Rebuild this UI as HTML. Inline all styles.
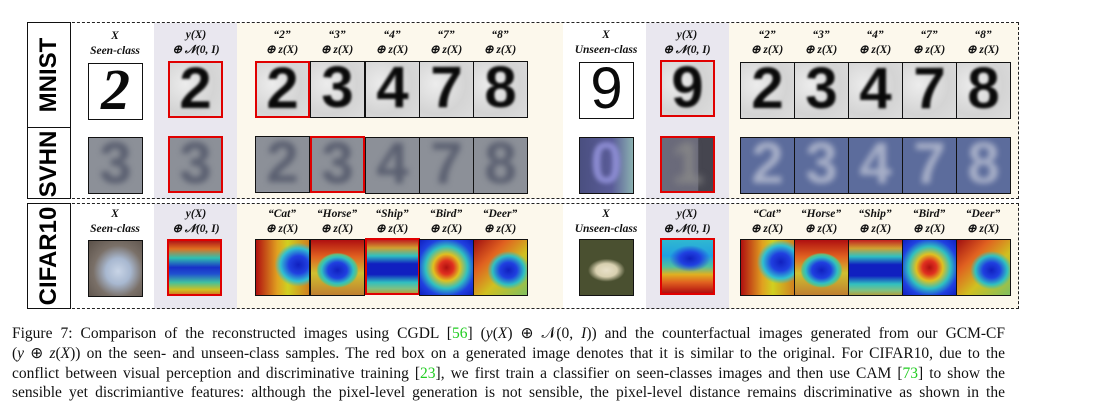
<!DOCTYPE html>
<html><head><meta charset="utf-8"><style>
body{margin:0;width:1093px;height:413px;background:#fff;position:relative;overflow:hidden;font-family:"Liberation Serif",serif}
.a{position:absolute}
.bg{position:absolute}
.im{position:absolute;box-sizing:border-box;border:1.5px solid #111;overflow:hidden;width:55px;height:57px}
.r{border:2.5px solid #e00000}
.mn{background:radial-gradient(circle at 30% 40%,#ececec,#d4d4d4 60%,#dcdcdc)}
.dg{position:absolute;left:0;right:0;top:-8px;text-align:center;font:bold 58px "Liberation Sans",sans-serif;color:#0a0a0a;filter:blur(1.4px)}
.sv{background:#8c9098}
.sv .dg{color:#5a5f70;filter:blur(3px)}
.sb{background:#5c6c9c}
.sb .dg{color:#a8b0c8;filter:blur(3px)}
.h{position:absolute;text-align:center;font:bold italic 11.5px "Liberation Serif",serif;color:#111;width:70px;line-height:15px}
.lab{position:absolute;font:bold 24px "Liberation Sans",sans-serif;transform:rotate(-90deg);transform-origin:center;white-space:nowrap;text-align:center}
.cap{position:absolute;left:12px;width:993px;font-size:15.5px;line-height:20px;text-align:justify;text-align-last:justify;white-space:nowrap;color:#111}
.g{color:#22cc22}
</style></head><body>
<div class="bg" style="left:154px;top:23px;width:83px;height:176px;background:#e9e7ef"></div>
<div class="bg" style="left:237px;top:23px;width:326px;height:176px;background:#fcf8ec"></div>
<div class="bg" style="left:646px;top:23px;width:83px;height:176px;background:#e9e7ef"></div>
<div class="bg" style="left:729px;top:23px;width:290px;height:176px;background:#fcf8ec"></div>
<div class="bg" style="left:154px;top:204px;width:83px;height:105px;background:#e9e7ef"></div>
<div class="bg" style="left:237px;top:204px;width:326px;height:105px;background:#fcf8ec"></div>
<div class="bg" style="left:646px;top:204px;width:83px;height:105px;background:#e9e7ef"></div>
<div class="bg" style="left:729px;top:204px;width:290px;height:105px;background:#fcf8ec"></div>
<div class="a" style="left:27px;top:22px;width:992px;height:177px;border:1.3px dashed #222;box-sizing:border-box"></div>
<div class="a" style="left:27px;top:203px;width:992px;height:106px;border:1.3px dashed #222;box-sizing:border-box"></div>
<div class="a" style="left:27px;top:22px;width:44px;height:106px;border:1.5px solid #111;box-sizing:border-box;background:#fff"></div>
<div class="a" style="left:27px;top:127px;width:44px;height:72px;border:1.5px solid #111;box-sizing:border-box;background:#fff"></div>
<div class="a" style="left:27px;top:203px;width:44px;height:106px;border:1.5px solid #111;box-sizing:border-box;background:#fff"></div>
<div class="lab" style="left:-1px;top:60px;width:100px;height:30px;line-height:30px">MNIST</div>
<div class="lab" style="left:-1px;top:149px;width:100px;height:30px;line-height:30px">SVHN</div>
<div class="lab" style="left:-1px;top:241px;width:100px;height:30px;line-height:30px">CIFAR10</div>

<div class="h" style="left:80px;top:29px">X<br>Seen-class</div>
<div class="h" style="left:161px;top:28px">y(X)<br>⊕ 𝒩(0, I)</div>
<div class="h" style="left:247px;top:28px">“2”<br>⊕ z(X)</div>
<div class="h" style="left:302px;top:28px">“3”<br>⊕ z(X)</div>
<div class="h" style="left:357px;top:28px">“4”<br>⊕ z(X)</div>
<div class="h" style="left:411px;top:28px">“7”<br>⊕ z(X)</div>
<div class="h" style="left:465px;top:28px">“8”<br>⊕ z(X)</div>
<div class="h" style="left:571px;top:28px">X<br>Unseen-class</div>
<div class="h" style="left:652px;top:28px">y(X)<br>⊕ 𝒩(0, I)</div>
<div class="h" style="left:732px;top:28px">“2”<br>⊕ z(X)</div>
<div class="h" style="left:786px;top:28px">“3”<br>⊕ z(X)</div>
<div class="h" style="left:840px;top:28px">“4”<br>⊕ z(X)</div>
<div class="h" style="left:894px;top:28px">“7”<br>⊕ z(X)</div>
<div class="h" style="left:948px;top:28px">“8”<br>⊕ z(X)</div>
<div class="h" style="left:80px;top:207px">X<br>Seen-class</div>
<div class="h" style="left:161px;top:207px">y(X)<br>⊕ 𝒩(0, I)</div>
<div class="h" style="left:247px;top:207px">“Cat”<br>⊕ z(X)</div>
<div class="h" style="left:302px;top:207px">“Horse”<br>⊕ z(X)</div>
<div class="h" style="left:357px;top:207px">“Ship”<br>⊕ z(X)</div>
<div class="h" style="left:411px;top:207px">“Bird”<br>⊕ z(X)</div>
<div class="h" style="left:465px;top:207px">“Deer”<br>⊕ z(X)</div>
<div class="h" style="left:571px;top:207px">X<br>Unseen-class</div>
<div class="h" style="left:652px;top:207px">y(X)<br>⊕ 𝒩(0, I)</div>
<div class="h" style="left:732px;top:207px">“Cat”<br>⊕ z(X)</div>
<div class="h" style="left:786px;top:207px">“Horse”<br>⊕ z(X)</div>
<div class="h" style="left:840px;top:207px">“Ship”<br>⊕ z(X)</div>
<div class="h" style="left:894px;top:207px">“Bird”<br>⊕ z(X)</div>
<div class="h" style="left:948px;top:207px">“Deer”<br>⊕ z(X)</div>

<div class="im" style="left:88px;top:63px;background:#fff"><div class="dg" style="filter:none;font-family:'Liberation Serif',serif;font-style:italic">2</div></div>
<div class="im r mn" style="left:168px;top:61px"><div class="dg">2</div></div>
<div class="im r mn" style="left:255px;top:61px"><div class="dg">2</div></div>
<div class="im mn" style="left:310px;top:61px"><div class="dg">3</div></div>
<div class="im mn" style="left:365px;top:61px"><div class="dg">4</div></div>
<div class="im mn" style="left:419px;top:61px"><div class="dg">7</div></div>
<div class="im mn" style="left:473px;top:61px"><div class="dg">8</div></div>
<div class="im" style="left:579px;top:62px;background:#fff"><div class="dg" style="filter:none;font-weight:normal">9</div></div>
<div class="im r mn" style="left:660px;top:60px"><div class="dg">9</div></div>
<div class="im mn" style="left:740px;top:62px"><div class="dg">2</div></div>
<div class="im mn" style="left:794px;top:62px"><div class="dg">3</div></div>
<div class="im mn" style="left:848px;top:62px"><div class="dg">4</div></div>
<div class="im mn" style="left:902px;top:62px"><div class="dg">7</div></div>
<div class="im mn" style="left:956px;top:62px"><div class="dg">8</div></div>

<div class="im sv" style="left:88px;top:137px"><div class="dg">3</div></div>
<div class="im r sv" style="left:168px;top:136px"><div class="dg">3</div></div>
<div class="im sv" style="left:255px;top:136px"><div class="dg">2</div></div>
<div class="im r sv" style="left:310px;top:136px"><div class="dg">3</div></div>
<div class="im sv" style="left:365px;top:137px"><div class="dg">4</div></div>
<div class="im sv" style="left:419px;top:137px"><div class="dg">7</div></div>
<div class="im sv" style="left:473px;top:137px"><div class="dg">8</div></div>
<div class="im" style="left:579px;top:137px;background:linear-gradient(90deg,#4a4f80,#5a5c98 60%,#8ab0b0)"><div class="dg" style="color:#8a8ad0;filter:blur(2px)">0</div></div>
<div class="im r" style="left:660px;top:136px;background:linear-gradient(90deg,#6a6a7a 70%,#45454f 72%)"><div class="dg" style="color:#888;filter:blur(4px)">1</div></div>
<div class="im sb" style="left:740px;top:137px"><div class="dg">2</div></div>
<div class="im sb" style="left:794px;top:137px"><div class="dg">3</div></div>
<div class="im sb" style="left:848px;top:137px"><div class="dg">4</div></div>
<div class="im sb" style="left:902px;top:137px"><div class="dg">7</div></div>
<div class="im sb" style="left:956px;top:137px"><div class="dg">8</div></div>

<div class="im" style="left:88px;top:240px;background:radial-gradient(ellipse at 55% 55%,#c8d4e6 0,#a8b8d0 30%,#7a7068 60%,#5a5048)"></div>
<div class="im r" style="left:167px;top:239px;background:linear-gradient(180deg,#b01818 0,#e07020 15%,#30c0b0 32%,#1830c8 50%,#2050d0 62%,#40c0a0 78%,#d0c020 92%,#d08020)"></div>
<div class="im" style="left:255px;top:239px;background:radial-gradient(ellipse 45% 40% at 80% 45%,#1020c0 0,#2040e0 40%,#30c0d0 75%,transparent 100%),linear-gradient(90deg,#b01010,#e0a020 40%,#d0d020 60%,#d08020)"></div>
<div class="im" style="left:310px;top:239px;background:radial-gradient(ellipse 40% 32% at 50% 55%,#1020c0 0,#2040e0 45%,#30c0c0 75%,#60c080 90%,transparent 100%),linear-gradient(180deg,#b01010,#e06020 30%,#d0c030 60%,#c08030)"></div>
<div class="im r" style="left:365px;top:238px;background:linear-gradient(180deg,#c02020 0,#d0a030 15%,#30c0c0 30%,#1020c0 45%,#1020c0 65%,#30c0c0 80%,#80c080 92%,#b0a040)"></div>
<div class="im" style="left:419px;top:239px;background:radial-gradient(circle at 50% 50%,#b01010 0,#e03020 18%,#e0c020 35%,#30c0c0 55%,#2040e0 75%,#1020c0)"></div>
<div class="im" style="left:473px;top:239px;background:radial-gradient(ellipse 40% 35% at 65% 55%,#1020c0 0,#2040e0 40%,#30c0c0 75%,transparent 100%),linear-gradient(135deg,#a01010,#e06020 30%,#d0c020 60%,#80c060)"></div>
<div class="im" style="left:579px;top:239px;background:radial-gradient(ellipse 50% 30% at 50% 55%,#e8e0c8 0,#d8d0b0 40%,#4a5030 70%),#3e4428"></div>
<div class="im r" style="left:660px;top:238px;background:radial-gradient(ellipse 40% 25% at 55% 35%,#1020c0 0,#2040e0 50%,transparent 100%),linear-gradient(180deg,#30b8d0 0,#20a0e0 30%,#50c0a0 50%,#e0b020 65%,#e06020 80%,#b01010)"></div>
<div class="im" style="left:740px;top:239px;background:radial-gradient(ellipse 45% 40% at 75% 40%,#1020c0 0,#2040e0 40%,#30c0d0 75%,transparent 100%),linear-gradient(90deg,#b01010,#e0a020 40%,#d0d020 60%,#d08020)"></div>
<div class="im" style="left:794px;top:239px;background:radial-gradient(ellipse 40% 32% at 50% 55%,#1020c0 0,#2040e0 45%,#30c0c0 75%,#60c080 90%,transparent 100%),linear-gradient(180deg,#b01010,#e06020 30%,#d0c030 60%,#c08030)"></div>
<div class="im" style="left:848px;top:239px;background:linear-gradient(180deg,#c02020 0,#d0a030 15%,#30c0c0 30%,#1020c0 45%,#1020c0 65%,#30c0c0 80%,#80c080 92%,#b0a040)"></div>
<div class="im" style="left:902px;top:239px;background:radial-gradient(circle at 50% 50%,#b01010 0,#e03020 18%,#e0c020 35%,#30c0c0 55%,#2040e0 75%,#1020c0)"></div>
<div class="im" style="left:956px;top:239px;background:radial-gradient(ellipse 40% 35% at 65% 55%,#1020c0 0,#2040e0 40%,#30c0c0 75%,transparent 100%),linear-gradient(135deg,#a01010,#e06020 30%,#d0c020 60%,#80c060)"></div>

<div class="cap" style="top:324px">Figure 7: Comparison of the reconstructed images using CGDL [<span class="g">56</span>] (<i>y</i>(<i>X</i>) ⊕ 𝒩(0, <i>I</i>)) and the counterfactual images generated from our GCM-CF</div>
<div class="cap" style="top:344px">(<i>y</i> ⊕ <i>z</i>(<i>X</i>)) on the seen- and unseen-class samples. The red box on a generated image denotes that it is similar to the original. For CIFAR10, due to the</div>
<div class="cap" style="top:364px">conflict between visual perception and discriminative training [<span class="g">23</span>], we first train a classifier on seen-classes images and then use CAM [<span class="g">73</span>] to show the</div>
<div class="cap" style="top:383px">sensible yet discrimiantive features: although the pixel-level generation is not sensible, the pixel-level distance remains discriminative as shown in the</div>
</body></html>
